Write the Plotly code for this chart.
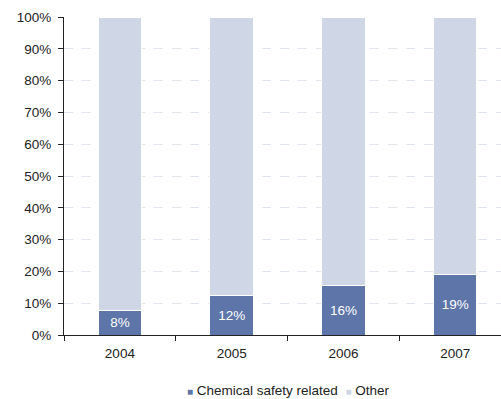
import plotly.graph_objects as go

years = ["2004", "2005", "2006", "2007"]
chemical = [7.8, 12.4, 15.5, 19.1]
chemical_labels = ["8%", "12%", "16%", "19%"]
other = [100 - v for v in chemical]
series_names = ["Chemical safety related", "Other"]
colors = ["#5d75a9", "#cfd7e6"]

fig = go.Figure()
fig.add_trace(go.Bar(
    x=years, y=chemical, name=series_names[0],
    marker=dict(color=colors[0], line=dict(color="white", width=1)),
    text=chemical_labels, textposition="inside", insidetextanchor="middle",
    textfont=dict(color="white", size=13.5, family="Liberation Sans, Arial"),
    width=0.39,
))
fig.add_trace(go.Bar(
    x=years, y=other, name=series_names[1],
    marker=dict(color=colors[1], line=dict(color="white", width=1)),
    width=0.39, hoverinfo="skip",
))

legend_text = (
    f'<span style="color:{colors[0]};font-size:10px">■</span> {series_names[0]}  '
    f'<span style="color:{colors[1]};font-size:10px">■</span> {series_names[1]}'
)
fig.add_annotation(
    text=legend_text, xref="paper", yref="paper",
    x=(288 - 64) / 437, y=-(390 - 335) / 318, xanchor="center", yanchor="middle",
    showarrow=False, font=dict(size=13.5, color="#222", family="Liberation Sans, Arial"),
)

fig.update_layout(
    barmode="stack",
    width=501, height=399,
    margin=dict(l=64, r=0, t=17, b=64, autoexpand=False),
    paper_bgcolor="white", plot_bgcolor="white",
    font=dict(family="Liberation Sans, Arial", size=13.5, color="#222"),
    showlegend=False,
    xaxis=dict(type="category", range=[-0.5, 3.41], tickson="boundaries",
               ticks="outside", ticklen=5, tickcolor="#222",
               showline=True, linecolor="#222", linewidth=1,
               showgrid=False, tickfont=dict(size=13.5), ticklabelstandoff=6,
               automargin=False),
    yaxis=dict(range=[0, 100], tickvals=[0, 10, 20, 30, 40, 50, 60, 70, 80, 90, 100],
               ticktext=[f"{v}%" for v in range(0, 101, 10)],
               ticks="outside", ticklen=5, tickcolor="#222",
               showline=True, linecolor="#222", linewidth=1,
               showgrid=True, gridcolor="#dfe4ee", griddash="dash", gridwidth=1,
               zeroline=False, tickfont=dict(size=13.5), ticklabelstandoff=4,
               automargin=False),
)

fig.write_html("out.html")
